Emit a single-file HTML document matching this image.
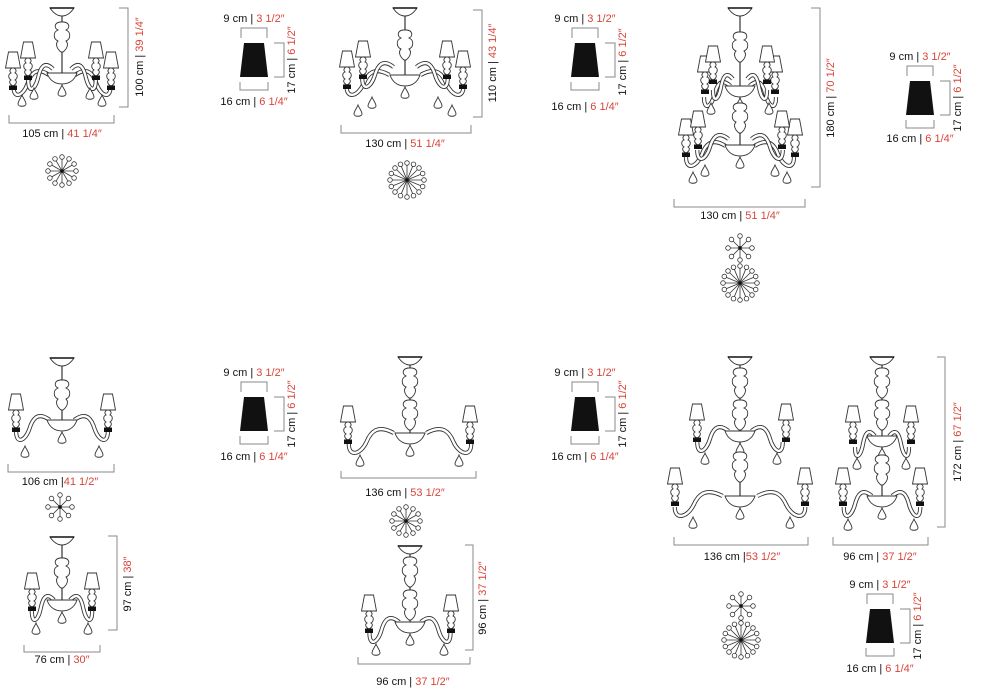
<!DOCTYPE html>
<html><head><meta charset="utf-8"><style>
html,body{margin:0;padding:0;background:#fff;}
svg{display:block;font-family:"Liberation Sans",Arial,sans-serif;}
.t{font-size:11px;fill:#111;}
.r{fill:#d9443a;}
.dim{fill:none;stroke:#8a8a8a;stroke-width:1;}
.o{fill:#fff;stroke:#333;stroke-width:0.9;}
.st line{stroke:#333;stroke-width:0.8;}
.st circle{fill:#fff;stroke:#333;stroke-width:0.8;}
</style></head><body>
<svg width="1000" height="700" viewBox="0 0 1000 700" xmlns="http://www.w3.org/2000/svg">
<defs>
  <g id="lamp">
    <path class="o" d="M0,-2 C-4,-4 -4,-7 -2,-8 C-5,-10 -5,-14 -2,-15 C-4,-17 -3,-19 -1,-20 L1,-20 C3,-19 4,-17 2,-15 C5,-14 5,-10 2,-8 C4,-7 4,-4 0,-2Z"/>
    <rect x="-4" y="-2.5" width="8" height="4.5" fill="#111"/>
    <path class="o" d="M-4.5,-36 L4.5,-36 L7.5,-20 L-7.5,-20Z"/>
  </g>
  <path id="drop" class="o" d="M0,0 C-1,3 -4,6 -4,9 C-4,12 4,12 4,9 C4,6 1,3 0,0Z"/>
  <g id="col">
    <path class="o" d="M-2,0 C-8,1 -8,6 -4,8 C-9,10 -9,17 -4,19 C-7,22 -5,27 -1,30 L1,30 C5,27 7,22 4,19 C9,17 9,10 4,8 C8,6 8,1 2,0Z"/>
  </g>
  <g id="cup"><path class="o" d="M-12,0 L12,0 C8,6 4,8 0,8 C-4,8 -8,6 -12,0Z"/><line x1="-12" y1="0" x2="12" y2="0" stroke="#111" stroke-width="1.6"/></g>
  <g id="armL">
    <path d="M-12,-1 C-24,-10 -29,-2 -32,8 C-36,20 -45,24 -45,10" fill="none" stroke="#333" stroke-width="4.2" vector-effect="non-scaling-stroke"/>
    <path d="M-12,-1 C-24,-10 -29,-2 -32,8 C-36,20 -45,24 -45,10" fill="none" stroke="#fff" stroke-width="2.4" vector-effect="non-scaling-stroke"/>
  </g>
  <g id="arms"><use href="#armL"/><use href="#armL" transform="scale(-1,1)"/></g>
  <g id="bowl"><path class="o" d="M-15,0 L15,0 C12,9 5,11 0,11 C-5,11 -12,9 -15,0Z"/><use href="#drop" transform="translate(0,12)"/></g>
  <g id="s8" class="st">
    <line x1="-12" y1="0" x2="12" y2="0"/><line x1="0" y1="-12" x2="0" y2="12"/>
    <line x1="-8.5" y1="-8.5" x2="8.5" y2="8.5"/><line x1="-8.5" y1="8.5" x2="8.5" y2="-8.5"/>
    <circle cx="12" cy="0" r="2.3"/><circle cx="-12" cy="0" r="2.3"/><circle cx="0" cy="12" r="2.3"/><circle cx="0" cy="-12" r="2.3"/>
    <circle cx="8.5" cy="8.5" r="2.3"/><circle cx="-8.5" cy="-8.5" r="2.3"/><circle cx="-8.5" cy="8.5" r="2.3"/><circle cx="8.5" cy="-8.5" r="2.3"/>
    <circle r="1.6" fill="#111" style="fill:#111"/>
  </g>
  <g id="s12" class="st">
    <line x1="-14" y1="0" x2="14" y2="0"/><line x1="0" y1="-14" x2="0" y2="14"/>
    <line x1="-12.1" y1="-7" x2="12.1" y2="7"/><line x1="-12.1" y1="7" x2="12.1" y2="-7"/>
    <line x1="-7" y1="-12.1" x2="7" y2="12.1"/><line x1="-7" y1="12.1" x2="7" y2="-12.1"/>
    <circle cx="14" cy="0" r="2.3"/><circle cx="-14" cy="0" r="2.3"/><circle cx="0" cy="14" r="2.3"/><circle cx="0" cy="-14" r="2.3"/>
    <circle cx="12.1" cy="7" r="2.3"/><circle cx="-12.1" cy="-7" r="2.3"/><circle cx="-12.1" cy="7" r="2.3"/><circle cx="12.1" cy="-7" r="2.3"/>
    <circle cx="7" cy="12.1" r="2.3"/><circle cx="-7" cy="-12.1" r="2.3"/><circle cx="-7" cy="12.1" r="2.3"/><circle cx="7" cy="-12.1" r="2.3"/>
    <circle r="1.8" style="fill:#111"/>
  </g>
  <g id="s16" class="st">
    <line x1="-17" y1="0" x2="17" y2="0"/><line x1="0" y1="-17" x2="0" y2="17"/>
    <line x1="-12" y1="-12" x2="12" y2="12"/><line x1="-12" y1="12" x2="12" y2="-12"/>
    <line x1="-15.7" y1="-6.5" x2="15.7" y2="6.5"/><line x1="-15.7" y1="6.5" x2="15.7" y2="-6.5"/>
    <line x1="-6.5" y1="-15.7" x2="6.5" y2="15.7"/><line x1="-6.5" y1="15.7" x2="6.5" y2="-15.7"/>
    <circle cx="17" cy="0" r="2.3"/><circle cx="-17" cy="0" r="2.3"/><circle cx="0" cy="17" r="2.3"/><circle cx="0" cy="-17" r="2.3"/>
    <circle cx="12" cy="12" r="2.3"/><circle cx="-12" cy="-12" r="2.3"/><circle cx="-12" cy="12" r="2.3"/><circle cx="12" cy="-12" r="2.3"/>
    <circle cx="15.7" cy="6.5" r="2.3"/><circle cx="-15.7" cy="-6.5" r="2.3"/><circle cx="-15.7" cy="6.5" r="2.3"/><circle cx="15.7" cy="-6.5" r="2.3"/>
    <circle cx="6.5" cy="15.7" r="2.3"/><circle cx="-6.5" cy="-15.7" r="2.3"/><circle cx="-6.5" cy="15.7" r="2.3"/><circle cx="6.5" cy="-15.7" r="2.3"/>
    <circle r="1.8" style="fill:#111"/>
  </g>
  <g id="shade">
    <path class="dim" d="M-13,38 V28 H13 V38"/>
    <path d="M-10,43 L10,43 L14,77 L-14,77Z" fill="#111"/>
    <path class="dim" d="M20,43 H30 V77 H20"/>
    <path class="dim" d="M-14,82 V90 H14 V82"/>
  </g>
</defs>

<!-- shade spec blocks -->
<g transform="translate(254,0)"><use href="#shade"/>
<text class="t" x="0" y="22" text-anchor="middle">9 cm | <tspan class="r">3 1/2″</tspan></text>
<text class="t" x="0" y="105" text-anchor="middle">16 cm | <tspan class="r">6 1/4″</tspan></text>
<text class="t" transform="translate(41,60) rotate(-90)" text-anchor="middle">17 cm | <tspan class="r">6 1/2″</tspan></text></g>
<g transform="translate(585,0)"><use href="#shade"/>
<text class="t" x="0" y="22" text-anchor="middle">9 cm | <tspan class="r">3 1/2″</tspan></text>
<text class="t" x="0" y="110" text-anchor="middle">16 cm | <tspan class="r">6 1/4″</tspan></text>
<text class="t" transform="translate(41,62) rotate(-90)" text-anchor="middle">17 cm | <tspan class="r">6 1/2″</tspan></text></g>
<g transform="translate(920,38)"><use href="#shade"/>
<text class="t" x="0" y="22" text-anchor="middle">9 cm | <tspan class="r">3 1/2″</tspan></text>
<text class="t" x="0" y="104" text-anchor="middle">16 cm | <tspan class="r">6 1/4″</tspan></text>
<text class="t" transform="translate(41,60) rotate(-90)" text-anchor="middle">17 cm | <tspan class="r">6 1/2″</tspan></text></g>
<g transform="translate(254,354)"><use href="#shade"/>
<text class="t" x="0" y="22" text-anchor="middle">9 cm | <tspan class="r">3 1/2″</tspan></text>
<text class="t" x="0" y="106" text-anchor="middle">16 cm | <tspan class="r">6 1/4″</tspan></text>
<text class="t" transform="translate(41,60) rotate(-90)" text-anchor="middle">17 cm | <tspan class="r">6 1/2″</tspan></text></g>
<g transform="translate(585,354)"><use href="#shade"/>
<text class="t" x="0" y="22" text-anchor="middle">9 cm | <tspan class="r">3 1/2″</tspan></text>
<text class="t" x="0" y="106" text-anchor="middle">16 cm | <tspan class="r">6 1/4″</tspan></text>
<text class="t" transform="translate(41,60) rotate(-90)" text-anchor="middle">17 cm | <tspan class="r">6 1/2″</tspan></text></g>
<g transform="translate(880,566)"><use href="#shade"/>
<text class="t" x="0" y="22" text-anchor="middle">9 cm | <tspan class="r">3 1/2″</tspan></text>
<text class="t" x="0" y="106" text-anchor="middle">16 cm | <tspan class="r">6 1/4″</tspan></text>
<text class="t" transform="translate(41,60) rotate(-90)" text-anchor="middle">17 cm | <tspan class="r">6 1/2″</tspan></text></g>

<!-- Ch1 -->
<line x1="62" y1="10" x2="62" y2="76" stroke="#333" stroke-width="1.2"/>
<use href="#cup" transform="translate(62,8)"/><use href="#col" transform="translate(62,22)"/>
<use href="#arms" transform="translate(62,76) scale(1.08,1)"/>
<use href="#arms" transform="translate(62,70) scale(0.75,1)"/>
<use href="#bowl" transform="translate(62,73)"/>
<use href="#lamp" transform="translate(13,88)"/><use href="#lamp" transform="translate(111,88)"/>
<use href="#lamp" transform="translate(28,78)"/><use href="#lamp" transform="translate(96,78)"/>
<use href="#drop" transform="translate(22,95)"/><use href="#drop" transform="translate(102,95)"/>
<use href="#drop" transform="translate(34,88)"/><use href="#drop" transform="translate(90,88)"/>
<path class="dim" d="M119,8 H128 V107 H119"/>
<text class="t" transform="translate(143,57) rotate(-90)" text-anchor="middle">100 cm | <tspan class="r">39 1/4″</tspan></text>
<path class="dim" d="M9,115 V123 H114 V115"/>
<text class="t" x="62" y="137" text-anchor="middle">105 cm | <tspan class="r">41 1/4″</tspan></text>
<use href="#s12" transform="translate(62,171)"/>

<!-- Ch2 -->
<line x1="405" y1="10" x2="405" y2="76" stroke="#333" stroke-width="1.2"/>
<use href="#cup" transform="translate(405,8)"/><use href="#col" transform="translate(405,30)"/>
<use href="#arms" transform="translate(405,76) scale(1.3,1)"/>
<use href="#arms" transform="translate(405,68) scale(0.95,1)"/>
<use href="#bowl" transform="translate(405,75)"/>
<use href="#lamp" transform="translate(347,87)"/><use href="#lamp" transform="translate(463,87)"/>
<use href="#lamp" transform="translate(363,77)"/><use href="#lamp" transform="translate(447,77)"/>
<use href="#drop" transform="translate(358,105)"/><use href="#drop" transform="translate(452,105)"/>
<use href="#drop" transform="translate(372,97)"/><use href="#drop" transform="translate(438,97)"/>
<path class="dim" d="M473,10 H482 V117 H473"/>
<text class="t" transform="translate(496,63) rotate(-90)" text-anchor="middle">110 cm | <tspan class="r">43 1/4″</tspan></text>
<path class="dim" d="M341,125 V133 H471 V125"/>
<text class="t" x="405" y="147" text-anchor="middle">130 cm | <tspan class="r">51 1/4″</tspan></text>
<use href="#s16" transform="translate(407,180)"/>

<!-- Ch3 -->
<line x1="740" y1="10" x2="740" y2="147" stroke="#333" stroke-width="1.2"/>
<use href="#cup" transform="translate(740,8)"/><use href="#col" transform="translate(740,32)"/>
<use href="#arms" transform="translate(740,87) scale(0.8,1)"/>
<use href="#arms" transform="translate(740,80) scale(0.6,1)"/>
<use href="#bowl" transform="translate(740,86)"/>
<use href="#lamp" transform="translate(705,92)"/><use href="#lamp" transform="translate(775,92)"/>
<use href="#lamp" transform="translate(713,82)"/><use href="#lamp" transform="translate(767,82)"/>
<use href="#col" transform="translate(740,103)"/>
<use href="#arms" transform="translate(740,147) scale(1.2,1)"/>
<use href="#arms" transform="translate(740,140) scale(0.95,1)"/>
<use href="#bowl" transform="translate(740,145)"/>
<use href="#lamp" transform="translate(686,155)"/><use href="#lamp" transform="translate(795,155)"/>
<use href="#lamp" transform="translate(698,147)"/><use href="#lamp" transform="translate(782,147)"/>
<use href="#drop" transform="translate(693,172)"/><use href="#drop" transform="translate(787,172)"/>
<use href="#drop" transform="translate(705,165)"/><use href="#drop" transform="translate(775,165)"/>
<use href="#drop" transform="translate(711,103)"/><use href="#drop" transform="translate(769,103)"/>
<path class="dim" d="M811,8 H820 V187 H811"/>
<text class="t" transform="translate(834,98) rotate(-90)" text-anchor="middle">180 cm | <tspan class="r">70 1/2″</tspan></text>
<path class="dim" d="M674,199 V207 H805 V199"/>
<text class="t" x="740" y="219" text-anchor="middle">130 cm | <tspan class="r">51 1/4″</tspan></text>
<use href="#s8" transform="translate(740,248)"/>
<use href="#s16" transform="translate(740,283)"/>

<!-- Ch4 -->
<line x1="62" y1="360" x2="62" y2="421" stroke="#333" stroke-width="1.2"/>
<use href="#cup" transform="translate(62,358)"/><use href="#col" transform="translate(62,380)"/>
<use href="#arms" transform="translate(62,421) scale(1.02,1)"/>
<use href="#bowl" transform="translate(62,420)"/>
<use href="#lamp" transform="translate(16,430)"/><use href="#lamp" transform="translate(108,430)"/>
<use href="#drop" transform="translate(25,446)"/><use href="#drop" transform="translate(99,446)"/>
<path class="dim" d="M8,464 V472 H114 V464"/>
<text class="t" x="60" y="485" text-anchor="middle">106 cm |<tspan class="r">41 1/2″</tspan></text>
<use href="#s8" transform="translate(60,507)"/>

<!-- Ch5 -->
<line x1="62" y1="539" x2="62" y2="601" stroke="#333" stroke-width="1.2"/>
<use href="#cup" transform="translate(62,537)"/><use href="#col" transform="translate(62,558)"/>
<use href="#arms" transform="translate(62,601) scale(0.67,1)"/>
<use href="#bowl" transform="translate(62,600)"/>
<use href="#lamp" transform="translate(32,609)"/><use href="#lamp" transform="translate(92,609)"/>
<use href="#drop" transform="translate(36,623)"/><use href="#drop" transform="translate(88,623)"/>
<path class="dim" d="M108,536 H117 V630 H108"/>
<text class="t" transform="translate(131,584) rotate(-90)" text-anchor="middle">97 cm | <tspan class="r">38″</tspan></text>
<path class="dim" d="M24,645 V652 H100 V645"/>
<text class="t" x="62" y="663" text-anchor="middle">76 cm | <tspan class="r">30″</tspan></text>

<!-- Ch6 -->
<line x1="410" y1="359" x2="410" y2="434" stroke="#333" stroke-width="1.2"/>
<use href="#cup" transform="translate(410,357)"/><use href="#col" transform="translate(410,368)"/><use href="#col" transform="translate(410,400)"/>
<use href="#arms" transform="translate(410,434) scale(1.36,1)"/>
<use href="#bowl" transform="translate(410,433)"/>
<use href="#lamp" transform="translate(348,442)"/><use href="#lamp" transform="translate(470,442)"/>
<use href="#drop" transform="translate(360,455)"/><use href="#drop" transform="translate(459,455)"/>
<path class="dim" d="M341,471 V478 H476 V471"/>
<text class="t" x="405" y="496" text-anchor="middle">136 cm | <tspan class="r">53 1/2″</tspan></text>
<use href="#s12" transform="translate(406,521)"/>

<!-- Ch7 -->
<line x1="410" y1="548" x2="410" y2="623" stroke="#333" stroke-width="1.2"/>
<use href="#cup" transform="translate(410,546)"/><use href="#col" transform="translate(410,557)"/><use href="#col" transform="translate(410,590)"/>
<use href="#arms" transform="translate(410,623) scale(0.9,1)"/>
<use href="#bowl" transform="translate(410,622)"/>
<use href="#lamp" transform="translate(369,631)"/><use href="#lamp" transform="translate(451,631)"/>
<use href="#drop" transform="translate(376,644)"/><use href="#drop" transform="translate(444,644)"/>
<path class="dim" d="M465,545 H473 V650 H465"/>
<text class="t" transform="translate(486,598) rotate(-90)" text-anchor="middle">96 cm | <tspan class="r">37 1/2″</tspan></text>
<path class="dim" d="M358,657 V664 H470 V657"/>
<text class="t" x="413" y="685" text-anchor="middle">96 cm | <tspan class="r">37 1/2″</tspan></text>

<!-- Ch8 -->
<line x1="740" y1="359" x2="740" y2="497" stroke="#333" stroke-width="1.2"/>
<use href="#cup" transform="translate(740,357)"/><use href="#col" transform="translate(740,368)"/><use href="#col" transform="translate(740,400)"/>
<use href="#arms" transform="translate(740,432) scale(0.95,1)"/>
<use href="#bowl" transform="translate(740,431)"/>
<use href="#lamp" transform="translate(697,440)"/><use href="#lamp" transform="translate(786,440)"/>
<use href="#drop" transform="translate(705,453)"/><use href="#drop" transform="translate(777,453)"/>
<use href="#col" transform="translate(740,452)"/>
<use href="#arms" transform="translate(740,497) scale(1.45,1)"/>
<use href="#bowl" transform="translate(740,496)"/>
<use href="#lamp" transform="translate(675,504)"/><use href="#lamp" transform="translate(805,504)"/>
<use href="#drop" transform="translate(693,517)"/><use href="#drop" transform="translate(790,517)"/>
<path class="dim" d="M674,537 V545 H808 V537"/>
<text class="t" x="742" y="560" text-anchor="middle">136 cm |<tspan class="r">53 1/2″</tspan></text>
<use href="#s8" transform="translate(741,606)"/>
<use href="#s16" transform="translate(741,640)"/>

<!-- Ch9 -->
<line x1="882" y1="359" x2="882" y2="497" stroke="#333" stroke-width="1.2"/>
<use href="#cup" transform="translate(882,357)"/><use href="#col" transform="translate(882,368)"/><use href="#col" transform="translate(882,400)"/>
<use href="#arms" transform="translate(882,437) scale(0.6,1)"/>
<use href="#bowl" transform="translate(882,436)"/>
<use href="#lamp" transform="translate(853,442)"/><use href="#lamp" transform="translate(911,442)"/>
<use href="#drop" transform="translate(857,458)"/><use href="#drop" transform="translate(906,458)"/>
<use href="#col" transform="translate(882,455)"/>
<use href="#arms" transform="translate(882,497) scale(0.85,1)"/>
<use href="#bowl" transform="translate(882,496)"/>
<use href="#lamp" transform="translate(843,504)"/><use href="#lamp" transform="translate(920,504)"/>
<use href="#drop" transform="translate(848,519)"/><use href="#drop" transform="translate(914,519)"/>
<path class="dim" d="M937,357 H945 V527 H937"/>
<text class="t" transform="translate(961,442) rotate(-90)" text-anchor="middle">172 cm | <tspan class="r">67 1/2″</tspan></text>
<path class="dim" d="M833,537 V545 H928 V537"/>
<text class="t" x="880" y="560" text-anchor="middle">96 cm | <tspan class="r">37 1/2″</tspan></text>
</svg>
</body></html>
